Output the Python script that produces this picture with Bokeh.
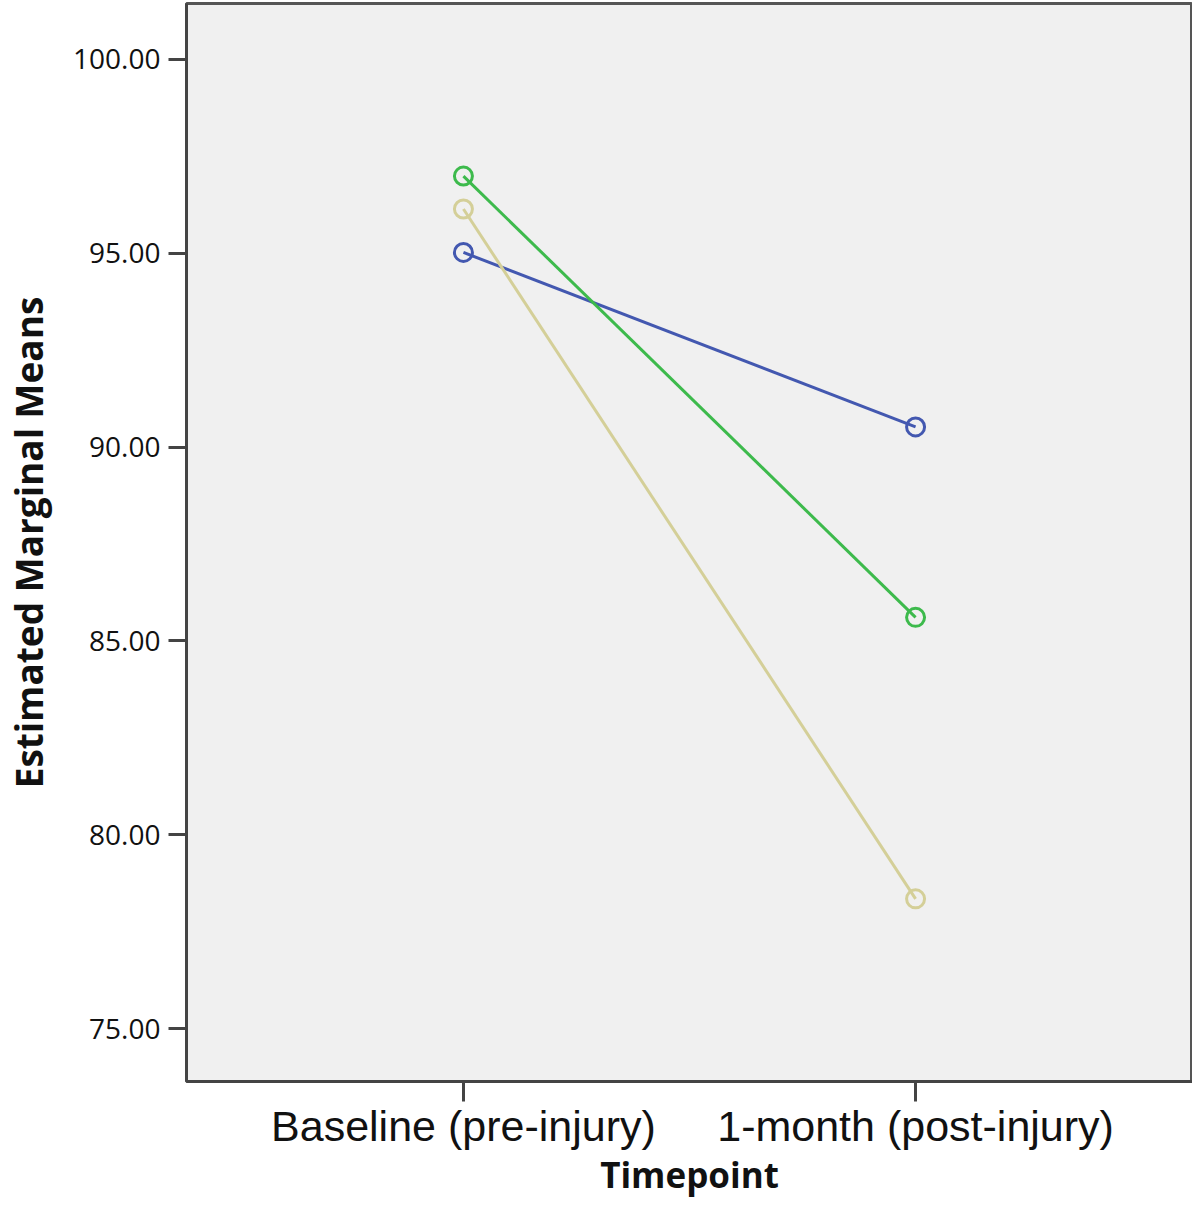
from bokeh.plotting import figure
from bokeh.models import FactorRange, Range1d, FixedTicker, CustomJSTickFormatter
from bokeh.embed import file_html
from bokeh.resources import INLINE

timepoints = ["Baseline (pre-injury)", "1-month (post-injury)"]
group1 = [95.02, 90.52]   # blue
group2 = [96.99, 85.61]   # green
group3 = [96.14, 78.35]   # tan
y_ticks = [75, 80, 85, 90, 95, 100]

colors = ["#4358b0", "#3dba4c", "#d4cf98"]
series = [group1, group2, group3]

p = figure(width=1192, height=1200, output_backend="svg", toolbar_location=None,
           x_range=FactorRange(factors=timepoints, range_padding=0.1125,
                               range_padding_units="absolute"),
           y_range=Range1d(73.64, 101.44),
           min_border_left=176, min_border_right=0, min_border_top=3,
           min_border_bottom=10)

p.background_fill_color = "#f0f0f0"
p.border_fill_color = "white"
p.outline_line_color = "#555555"
p.outline_line_width = 3
p.grid.visible = False

for vals, c in zip(series, colors):
    p.line(timepoints, vals, line_color=c, line_width=3)
    p.scatter(timepoints, vals, marker="circle", size=18, fill_color=None,
              line_color=c, line_width=3)

# y axis
p.yaxis.ticker = FixedTicker(ticks=y_ticks)
p.yaxis.formatter = CustomJSTickFormatter(code="return tick.toFixed(2);")
p.yaxis.major_label_text_font = "Open Sans"
p.yaxis.major_label_text_font_size = "28px"
p.yaxis.major_label_text_color = "#111111"
p.yaxis.major_tick_out = 18
p.yaxis.major_tick_in = 0
p.yaxis.minor_tick_line_color = None
p.yaxis.major_tick_line_width = 3
p.yaxis.major_tick_line_color = "#444444"
p.yaxis.axis_line_color = "#444444"
p.yaxis.axis_line_width = 3
p.yaxis.major_label_standoff = 8
p.yaxis.axis_label = "Estimated Marginal Means"
p.yaxis.axis_label_text_font = "Open Sans"
p.yaxis.axis_label_text_font_style = "bold"
p.yaxis.axis_label_text_font_size = "37px"
p.yaxis.axis_label_text_color = "#111111"
p.yaxis.axis_label_standoff = 16

# x axis
p.xaxis.major_label_text_font = "Liberation Sans"
p.xaxis.major_label_text_font_size = "43px"
p.xaxis.major_label_text_color = "#111111"
p.xaxis.major_tick_out = 20
p.xaxis.major_tick_in = 0
p.xaxis.major_tick_line_width = 3
p.xaxis.major_tick_line_color = "#444444"
p.xaxis.axis_line_color = "#444444"
p.xaxis.axis_line_width = 3
p.xaxis.major_label_standoff = 0
p.xaxis.axis_label = "Timepoint"
p.xaxis.axis_label_text_font = "Open Sans"
p.xaxis.axis_label_text_font_style = "bold"
p.xaxis.axis_label_text_font_size = "35px"
p.xaxis.axis_label_text_color = "#111111"
p.xaxis.axis_label_standoff = -2

open("out.html", "w").write(file_html(p, INLINE))
